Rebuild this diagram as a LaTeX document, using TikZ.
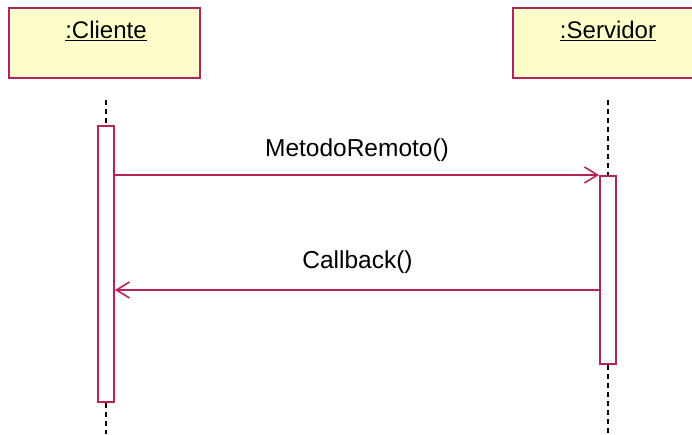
\documentclass[tikz,border=0pt]{standalone}
\usepackage{fontspec}
\setmainfont{Liberation Sans}
\usetikzlibrary{arrows.meta,positioning}
\definecolor{umlred}{RGB}{180,36,88}
\definecolor{umlyellow}{RGB}{255,255,204}

\begin{document}
\begin{tikzpicture}[x=1pt,y=-1pt,
    objbox/.style={draw=umlred,fill=umlyellow,line width=2pt,minimum width=191pt,minimum height=70pt,inner sep=0pt},
    objname/.style={font=\fontsize{24}{27}\selectfont,inner sep=0pt},
    activ/.style={draw=umlred,fill=white,line width=2pt,minimum width=16pt,inner sep=0pt},
    lifeline/.style={draw=black,line width=2pt,dash pattern=on 5pt off 4pt},
    msg/.style={draw=umlred,line width=2pt,-{Straight Barb[length=13pt,width=16pt,line width=1.6pt]}},
    msglabel/.style={font=\fontsize{24.5}{27}\selectfont,inner sep=0pt}]
  \useasboundingbox (0,0) rectangle (692,434);

  %objects
  \node[objbox] (cliente) at (104.5,43) {};
  \node[objname] (clienteName) at (106,31) {\underline{:Cliente}};
  \node[objbox] (servidor) at (608,43) {};
  \node[objname] (servidorName) at (608,31) {\underline{:Servidor}};

  %lifelines
  \coordinate (clienteTop) at (106,100);
  \coordinate (clienteEnd) at (106,434);
  \coordinate (servidorTop) at (608,100);
  \coordinate (servidorEnd) at (608,434);
  \node[activ,minimum height=276pt] (actCliente) at (106,264) {};
  \node[activ,minimum height=188pt] (actServidor) at (608,270) {};
  \draw[lifeline] (clienteTop) -- (actCliente.north);
  \draw[lifeline] (actCliente.south) -- (clienteEnd);
  \draw[lifeline] (servidorTop) -- (actServidor.north);
  \draw[lifeline] (actServidor.south) -- (servidorEnd);

  %messages
  \draw[msg] (actCliente.east |- actServidor.north) -- (actServidor.north west)
    node[msglabel,midway,above=12pt] (metodo) {MetodoRemoto()};
  \coordinate (cbStart) at (600,290);
  \draw[msg] (cbStart) -- (cbStart -| actCliente.east)
    node[msglabel,midway,above=15pt] (callback) {Callback()};
\end{tikzpicture}
\end{document}
